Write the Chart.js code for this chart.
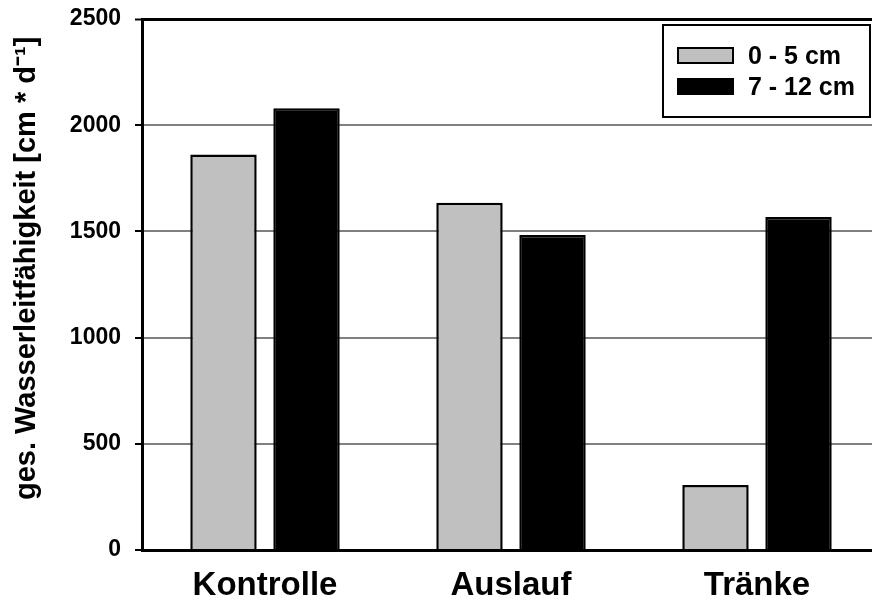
<!DOCTYPE html>
<html>
<head>
<meta charset="utf-8">
<script src="https://cdn.jsdelivr.net/npm/chart.js@4/dist/chart.umd.min.js"></script>
<style>
  html, body { margin: 0; padding: 0; background: #fff; overflow: hidden; }
  #wrap { position: relative; width: 885px; height: 601px; }
</style>
</head>
<body>
<div id="wrap"><canvas id="chart"></canvas></div>
<script>
// data
const categories = ['Kontrolle', 'Auslauf', 'Tränke'];
const seriesNames = ['0 - 5 cm', '7 - 12 cm'];
const shallow = [1862, 1635, 306];
const deep = [2080, 1483, 1568];
const yTicks = [0, 500, 1000, 1500, 2000, 2500];

const FONT = '"Liberation Sans", Arial, sans-serif';

// boxed legend in the top right corner of the plot
const boxLegend = {
    id: 'boxLegend',
    afterDraw(chart) {
        const ctx = chart.ctx;
        const area = chart.chartArea;
        const w = 207, h = 92;
        const x = area.right - 10 - w;
        const y = area.top + 6;
        ctx.save();
        ctx.fillStyle = '#fff';
        ctx.fillRect(x, y, w, h);
        ctx.lineWidth = 2;
        ctx.strokeStyle = '#000';
        ctx.strokeRect(x, y, w, h);
        ctx.font = 'bold 25px ' + FONT;
        ctx.textBaseline = 'middle';
        chart.data.datasets.forEach((ds, i) => {
            const sy = y + 23 + i * 31;
            ctx.fillStyle = ds.backgroundColor;
            ctx.fillRect(x + 15, sy, 55, 15);
            ctx.lineWidth = 2;
            ctx.strokeStyle = '#000';
            ctx.strokeRect(x + 15, sy, 55, 15);
            ctx.fillStyle = '#000';
            ctx.fillText(ds.label, x + 85, sy + 9);
        });
        ctx.restore();
    }
};

const ctx = document.getElementById('chart').getContext('2d');
new Chart(ctx, {
    type: 'bar',
    data: {
        labels: categories,
        datasets: [
            { label: seriesNames[0], data: shallow, backgroundColor: '#c0c0c0', borderColor: '#000', borderWidth: 2.5 },
            { label: seriesNames[1], data: deep, backgroundColor: '#000', borderColor: '#000', borderWidth: 2.5 }
        ]
    },
    options: {
        responsive: true,
        maintainAspectRatio: false,
        animation: false,
        layout: { padding: { top: 19, right: 5, left: 0, bottom: 0 } },
        datasets: { bar: { categoryPercentage: 0.675, barPercentage: 0.8 } },
        plugins: {
            legend: { display: false },
            tooltip: { enabled: false }
        },
        scales: {
            x: {
                grid: { display: false },
                border: { display: true, color: '#000', width: 3 },
                ticks: { color: '#000', padding: 8, font: { family: FONT, size: 33, weight: 'bold' } },
                afterFit(scale) { scale.height = 51; }
            },
            y: {
                min: 0,
                max: 2500,
                afterBuildTicks(scale) { scale.ticks = yTicks.map(v => ({ value: v })); },
                grid: {
                    color: c => c.tick && c.tick.value === 2500 ? '#000' : '#808080',
                    lineWidth: c => c.tick && c.tick.value === 2500 ? 3 : 2,
                    tickColor: '#000',
                    tickLength: 7,
                    tickWidth: 2
                },
                border: { display: true, color: '#000', width: 3 },
                ticks: {
                    color: '#000',
                    padding: 14,
                    font: { family: FONT, size: 23, weight: 'bold' },
                    callback: v => String(v)
                },
                title: {
                    display: true,
                    // leading spaces nudge the rotated title upwards like in the original
                    text: '    ges. Wasserleitfähigkeit [cm * d⁻¹]',
                    color: '#000',
                    padding: { top: 10, bottom: 0 },
                    font: { family: FONT, size: 29, weight: 'bold' }
                },
                afterFit(scale) {
                    scale.width = 142;
                    scale.paddingTop = 0;
                    scale.paddingBottom = 0;
                }
            }
        }
    },
    plugins: [boxLegend]
});
</script>
</body>
</html>
